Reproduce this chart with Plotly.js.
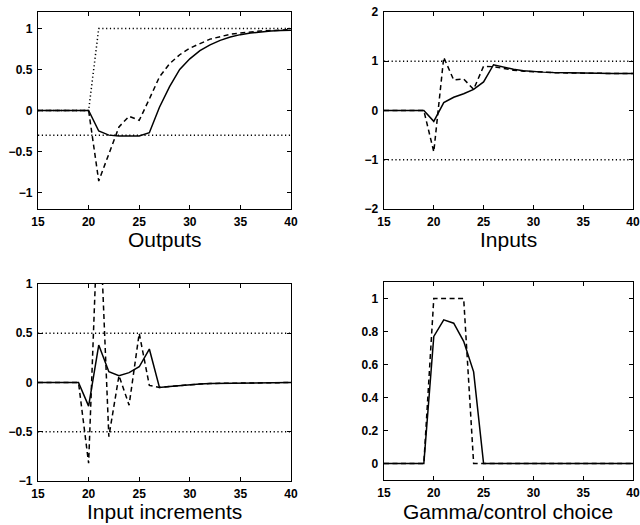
<!DOCTYPE html>
<html>
<head>
<meta charset="utf-8">
<script src="https://cdn.plot.ly/plotly-3.0.1.min.js"></script>
<style>html,body{margin:0;padding:0;background:#fff;}#chart{width:640px;height:525px;}</style>
</head>
<body>
<div id="chart"></div>
<script>
// time steps
const t = [15,16,17,18,19,20,21,22,23,24,25,26,27,28,29,30,31,32,33,34,35,36,37,38,39,40];

// Outputs
const outSolid  = [0,0,0,0,0,0,-0.25,-0.3,-0.31,-0.31,-0.31,-0.27,0.04,0.29,0.5,0.63,0.73,0.8,0.855,0.895,0.925,0.945,0.96,0.97,0.975,0.98];
const outDashed = [0,0,0,0,0,0,-0.86,-0.52,-0.2,-0.07,-0.12,0.14,0.41,0.57,0.68,0.76,0.82,0.87,0.9,0.93,0.945,0.96,0.97,0.975,0.98,0.985];
const outRef    = [0,0,0,0,0,0,1,1,1,1,1,1,1,1,1,1,1,1,1,1,1,1,1,1,1,1];
const outLimit  = -0.3;

// Inputs
const inSolid  = [0,0,0,0,0,-0.22,0.16,0.27,0.34,0.43,0.58,0.93,0.88,0.84,0.81,0.79,0.78,0.77,0.765,0.76,0.755,0.753,0.752,0.751,0.75,0.75];
const inDashed = [0,0,0,0,0,-0.84,1.08,0.62,0.64,0.43,0.9,0.89,0.85,0.82,0.8,0.785,0.775,0.77,0.765,0.76,0.755,0.753,0.752,0.751,0.75,0.75];
const inLimits = [1,-1];

// Input increments
const incSolid  = [0,0,0,0,0,-0.24,0.38,0.11,0.07,0.1,0.16,0.34,-0.05,-0.04,-0.03,-0.02,-0.015,-0.01,-0.008,-0.005,-0.004,-0.003,-0.002,-0.001,0,0];
const incDashed = [0,0,0,0,0,-0.82,1.95,-0.55,0.07,-0.23,0.5,-0.03,-0.05,-0.04,-0.03,-0.02,-0.015,-0.01,-0.008,-0.005,-0.004,-0.003,-0.002,-0.001,0,0];
const incLimits = [0.5,-0.5];

// Gamma / control choice
const gamSolid  = [0,0,0,0,0,0.77,0.87,0.85,0.74,0.555,0,0,0,0,0,0,0,0,0,0,0,0,0,0,0,0];
const gamDashed = [0,0,0,0,0,1,1,1,1,0,0,0,0,0,0,0,0,0,0,0,0,0,0,0,0,0];

const titles = ['Outputs','Inputs','Input increments','Gamma/control choice'];

const SOLID = {color:'#000', width:1.5};
const DASH  = {color:'#000', width:1.5, dash:'5px,3.5px'};
const DOT   = {color:'#000', width:1.5, dash:'1.2px,2.6px'};

function constLine(v){ return t.map(()=>v); }

const traces = [];
function add(xa, ya, y, line){
  traces.push({x:t, y:y, xaxis:xa, yaxis:ya, type:'scatter', mode:'lines', line:line, hoverinfo:'skip'});
}
// panel 1
add('x','y',outRef,DOT);
add('x','y',constLine(outLimit),DOT);
add('x','y',outDashed,DASH);
add('x','y',outSolid,SOLID);
// panel 2
inLimits.forEach(v=>add('x2','y2',constLine(v),DOT));
add('x2','y2',inDashed,DASH);
add('x2','y2',inSolid,SOLID);
// panel 3
incLimits.forEach(v=>add('x3','y3',constLine(v),DOT));
add('x3','y3',incDashed,DASH);
add('x3','y3',incSolid,SOLID);
// panel 4
add('x4','y4',gamDashed,DASH);
add('x4','y4',gamSolid,SOLID);

const FAM = '"Liberation Sans", Arial, Helvetica, sans-serif';
const FONT = {family:FAM, size:12, color:'#000', weight:'bold'};
const TFONT = {family:FAM, size:21, color:'#000', weight:'normal'};

function xax(dom, anchor){
  return {domain:dom, anchor:anchor, range:[15,40], tickvals:[15,20,25,30,35,40],
    ticks:'inside', ticklen:4, tickcolor:'#000', mirror:'ticks', showline:true, linecolor:'#000', linewidth:1.3,
    showgrid:false, zeroline:false, tickfont:FONT, fixedrange:true, ticklabelstandoff:1};
}
function yax(dom, anchor, range, dtick){
  return {domain:dom, anchor:anchor, range:range, dtick:dtick, tick0:0,
    ticks:'inside', ticklen:4, tickcolor:'#000', mirror:'ticks', showline:true, linecolor:'#000', linewidth:1.3,
    showgrid:false, zeroline:false, tickfont:FONT, fixedrange:true, ticklabelstandoff:2};
}

const XL = [0.0594,0.4547], XR = [0.6,0.989];
const YT = [0.602,0.977], YB = [0.0838,0.459], YB4 = [0.0857,0.463];

function cap(text, dom, y){
  return {text:text, xref:'paper', yref:'paper', x:(dom[0]+dom[1])/2, y:y,
    xanchor:'center', yanchor:'middle', showarrow:false, borderpad:0, font:TFONT};
}

const layout = {
  width:640, height:525, showlegend:false,
  margin:{l:0,r:0,t:0,b:0},
  paper_bgcolor:'#fff', plot_bgcolor:'#fff',
  font:FONT,
  xaxis: xax(XL,'y'),
  yaxis: yax(YT,'x',[-1.2,1.2],0.5),
  xaxis2: xax(XR,'y2'),
  yaxis2: yax(YT,'x2',[-2,2],1),
  xaxis3: xax(XL,'y3'),
  yaxis3: yax(YB,'x3',[-1,1],0.5),
  xaxis4: xax(XR,'y4'),
  yaxis4: yax(YB4,'x4',[-0.1,1.1],0.2),
  annotations: [
    cap(titles[0], XL, 1-239/525),
    cap(titles[1], XR, 1-239/525),
    cap(titles[2], XL, 1-511/525),
    cap(titles[3], XR, 1-511/525)
  ]
};

Plotly.newPlot('chart', traces, layout, {staticPlot:true, displayModeBar:false});
</script>
</body>
</html>
